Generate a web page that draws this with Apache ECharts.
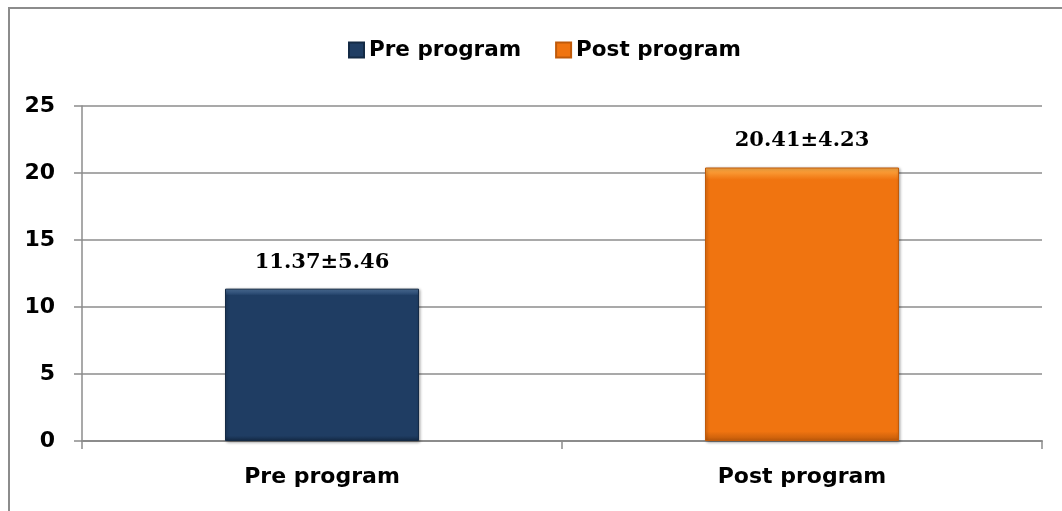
<!DOCTYPE html>
<html>
<head>
<meta charset="utf-8">
<script src="https://cdn.jsdelivr.net/npm/echarts@6/dist/echarts.min.js"></script>
<style>
html,body{margin:0;padding:0;background:#fff;}
#chart{width:1062px;height:511px;}
</style>
</head>
<body>
<div id="chart"></div>
<script>
var categories = ['Pre program', 'Post program'];
var seriesNames = ['Pre program', 'Post program'];
var means = [11.37, 20.41];
var sds = [5.46, 4.23];
var yTicks = [0, 5, 10, 15, 20, 25];

var colors = [
  {base: '#1F3D63', light: '#5277A3', dark: '#142A45'},
  {base: '#F07410', light: '#FFB04A', dark: '#BF5A0A'}
];

function grad(c) {
  return new echarts.graphic.LinearGradient(0, 0, 0, 1, [
    {offset: 0, color: c.light},
    {offset: 0.045, color: c.base},
    {offset: 0.965, color: c.base},
    {offset: 1, color: c.dark}
  ]);
}

var chart = echarts.init(document.getElementById('chart'));
var series = seriesNames.map(function (name, i) {
  var data = categories.map(function (c, j) { return j === i ? means[j] : null; });
  return {
    name: name,
    type: 'bar',
    data: data,
    barWidth: 194,
    barGap: '-100%',
    itemStyle: {
      color: grad(colors[i]),
      borderColor: colors[i].dark,
      borderWidth: 1,
      shadowColor: 'rgba(0,0,0,0.35)',
      shadowBlur: 3,
      shadowOffsetX: 1,
      shadowOffsetY: 1
    },
    label: {
      show: true,
      position: 'top',
      distance: 16,
      fontFamily: 'DejaVu Serif',
      fontWeight: 'bold',
      fontSize: 21,
      color: '#000',
      formatter: function (p) { return means[p.dataIndex].toFixed(2) + '±' + sds[p.dataIndex].toFixed(2); }
    }
  };
});

chart.setOption({
  animation: false,
  backgroundColor: '#fff',
  graphic: [{
    type: 'rect',
    shape: {x: 9, y: 8, width: 1200, height: 700},
    style: {fill: 'none', stroke: '#8c8c8c', lineWidth: 2},
    silent: true
  }],
  legend: {
    top: 39,
    left: 348,
    padding: 0,
    itemWidth: 15,
    itemHeight: 15,
    itemGap: 34,
    icon: 'rect',
    textStyle: {fontFamily: 'DejaVu Sans', fontWeight: 'bold', fontSize: 21.5, color: '#000'},
    data: seriesNames
  },
  grid: {left: 82, right: 20, top: 106, bottom: 70},
  xAxis: {
    type: 'category',
    data: categories,
    axisLine: {lineStyle: {color: '#8c8c8c', width: 2}},
    axisTick: {show: true, alignWithLabel: false, length: 8, lineStyle: {color: '#8c8c8c', width: 1.5}},
    axisLabel: {fontFamily: 'DejaVu Sans', fontWeight: 'bold', fontSize: 22, color: '#000', margin: 25}
  },
  yAxis: {
    type: 'value',
    min: yTicks[0],
    max: yTicks[yTicks.length - 1],
    interval: 5,
    axisLine: {show: true, lineStyle: {color: '#8c8c8c', width: 1.5}},
    axisTick: {show: true, length: 8, lineStyle: {color: '#8c8c8c', width: 1.5}},
    splitLine: {lineStyle: {color: '#8c8c8c', width: 1.5}},
    axisLabel: {fontFamily: 'DejaVu Sans', fontWeight: 'bold', fontSize: 22, color: '#000', margin: 27}
  },
  series: series
});
</script>
</body>
</html>
